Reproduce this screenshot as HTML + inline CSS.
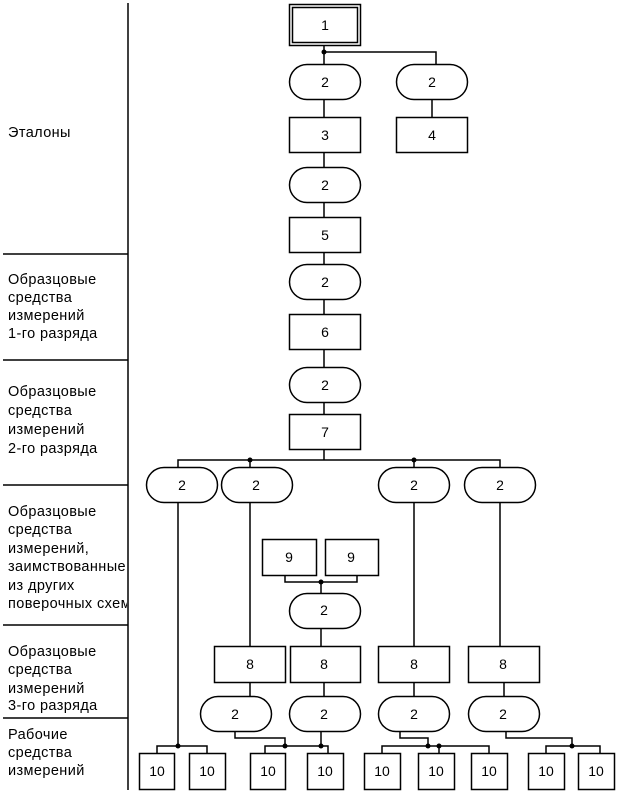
<!DOCTYPE html>
<html><head><meta charset="utf-8"><style>
html,body{margin:0;padding:0;background:#fff;}
svg{display:block;}
text{font-family:"Liberation Sans",sans-serif;font-size:14px;fill:#000;}
.l text{font-size:14.5px;letter-spacing:0.4px;}
.c{text-anchor:middle;}
</style></head><body>
<svg width="617" height="792" viewBox="0 0 617 792" xmlns="http://www.w3.org/2000/svg">
<defs><clipPath id="lc"><rect x="0" y="0" width="127" height="792"/></clipPath></defs>
<g stroke="#000" stroke-width="1.5" fill="none">
<line x1="128" y1="3" x2="128" y2="790"/>
<line x1="3" y1="254" x2="128" y2="254"/>
<line x1="3" y1="360" x2="128" y2="360"/>
<line x1="3" y1="485" x2="128" y2="485"/>
<line x1="3" y1="625" x2="128" y2="625"/>
<line x1="3" y1="718" x2="128" y2="718"/>
</g>
<g clip-path="url(#lc)" class="l">
<text x="8" y="137">Эталоны</text>
<text x="8" y="284">Образцовые</text><text x="8" y="302">средства</text><text x="8" y="320">измерений</text><text x="8" y="338">1-го разряда</text>
<text x="8" y="396">Образцовые</text><text x="8" y="415">средства</text><text x="8" y="434">измерений</text><text x="8" y="453">2-го разряда</text>
<text x="8" y="516">Образцовые</text><text x="8" y="534">средства</text><text x="8" y="553">измерений,</text><text x="8" y="571">заимствованные</text><text x="8" y="590">из других</text><text x="8" y="608">поверочных схем</text>
<text x="8" y="656">Образцовые</text><text x="8" y="674">средства</text><text x="8" y="693">измерений</text><text x="8" y="710">3-го разряда</text>
<text x="8" y="739">Рабочие</text><text x="8" y="757">средства</text><text x="8" y="775">измерений</text>
</g>
<g stroke="#000" stroke-width="1.5" fill="none">
<path d="M324 46V64 M324 52H436V64 M324 99V117 M432 99V117 M324 153V167 M324 203V217 M324 253V264 M324 300V314 M324 350V367 M324 403V414 M324 450V460"/>
<path d="M178 467V460H500V467 M250 460V467 M414 460V467"/>
<path d="M178 503V746 M250 503V646 M414 503V646 M500 503V646"/>
<path d="M285 575V582H357V575 M321 582V593 M321 628V646"/>
<path d="M250 682V696 M324 682V696 M414 682V696 M504 682V696"/>
<path d="M157 753V746H207V753"/>
<path d="M235 732V738H285V746 M265 753V746H328V753 M321 732V746"/>
<path d="M400 732V738H428V746 M382 753V746H489V753 M439 746V753"/>
<path d="M506 732V738H572V746 M546 753V746H600V753"/>
<rect x="289.5" y="4.5" width="71" height="41"/>
<rect x="292.5" y="7.5" width="65" height="35"/>
<rect x="289.5" y="117.5" width="71" height="35"/>
<rect x="396.5" y="117.5" width="71" height="35"/>
<rect x="289.5" y="217.5" width="71" height="35"/>
<rect x="289.5" y="314.5" width="71" height="35"/>
<rect x="289.5" y="414.5" width="71" height="35"/>
<rect x="262.5" y="539.5" width="54" height="36"/>
<rect x="325.5" y="539.5" width="53" height="36"/>
<rect x="214.5" y="646.5" width="71" height="36"/>
<rect x="290.5" y="646.5" width="70" height="36"/>
<rect x="378.5" y="646.5" width="71" height="36"/>
<rect x="468.5" y="646.5" width="71" height="36"/>
<rect x="139.5" y="753.5" width="35" height="36"/>
<rect x="189.5" y="753.5" width="36" height="36"/>
<rect x="250.5" y="753.5" width="35" height="36"/>
<rect x="307.5" y="753.5" width="36" height="36"/>
<rect x="364.5" y="753.5" width="36" height="36"/>
<rect x="418.5" y="753.5" width="36" height="36"/>
<rect x="471.5" y="753.5" width="36" height="36"/>
<rect x="528.5" y="753.5" width="36" height="36"/>
<rect x="578.5" y="753.5" width="36" height="36"/>
<rect x="289.5" y="64.5" width="71" height="35" rx="17.5"/>
<rect x="396.5" y="64.5" width="71" height="35" rx="17.5"/>
<rect x="289.5" y="167.5" width="71" height="35" rx="17.5"/>
<rect x="289.5" y="264.5" width="71" height="35" rx="17.5"/>
<rect x="289.5" y="367.5" width="71" height="35" rx="17.5"/>
<rect x="146.5" y="467.5" width="71" height="35" rx="17.5"/>
<rect x="221.5" y="467.5" width="71" height="35" rx="17.5"/>
<rect x="378.5" y="467.5" width="71" height="35" rx="17.5"/>
<rect x="464.5" y="467.5" width="71" height="35" rx="17.5"/>
<rect x="289.5" y="593.5" width="71" height="35" rx="17.5"/>
<rect x="200.5" y="696.5" width="71" height="35" rx="17.5"/>
<rect x="289.5" y="696.5" width="71" height="35" rx="17.5"/>
<rect x="378.5" y="696.5" width="71" height="35" rx="17.5"/>
<rect x="468.5" y="696.5" width="71" height="35" rx="17.5"/>
</g>
<g fill="#000">
<circle cx="324" cy="52" r="2.5"/><circle cx="250" cy="460" r="2.5"/><circle cx="414" cy="460" r="2.5"/>
<circle cx="321" cy="582" r="2.5"/><circle cx="178" cy="746" r="2.5"/><circle cx="285" cy="746" r="2.5"/>
<circle cx="321" cy="746" r="2.5"/><circle cx="428" cy="746" r="2.5"/><circle cx="439" cy="746" r="2.5"/>
<circle cx="572" cy="746" r="2.5"/>
</g>
<g>
<text class="c" x="325" y="30">1</text>
<text class="c" x="325" y="87">2</text><text class="c" x="432" y="87">2</text>
<text class="c" x="325" y="140">3</text><text class="c" x="432" y="140">4</text>
<text class="c" x="325" y="190">2</text><text class="c" x="325" y="240">5</text>
<text class="c" x="325" y="287">2</text><text class="c" x="325" y="337">6</text>
<text class="c" x="325" y="390">2</text><text class="c" x="325" y="437">7</text>
<text class="c" x="182" y="490">2</text><text class="c" x="256" y="490">2</text>
<text class="c" x="414" y="490">2</text><text class="c" x="500" y="490">2</text>
<text class="c" x="289" y="562">9</text><text class="c" x="351" y="562">9</text>
<text class="c" x="324" y="615">2</text>
<text class="c" x="250" y="669">8</text><text class="c" x="324" y="669">8</text>
<text class="c" x="414" y="669">8</text><text class="c" x="503" y="669">8</text>
<text class="c" x="235" y="719">2</text><text class="c" x="324" y="719">2</text>
<text class="c" x="414" y="719">2</text><text class="c" x="503" y="719">2</text>
<text class="c" x="157" y="776">10</text><text class="c" x="207" y="776">10</text>
<text class="c" x="268" y="776">10</text><text class="c" x="325" y="776">10</text>
<text class="c" x="382" y="776">10</text><text class="c" x="436" y="776">10</text>
<text class="c" x="489" y="776">10</text><text class="c" x="546" y="776">10</text>
<text class="c" x="596" y="776">10</text>
</g>
</svg>
</body></html>
